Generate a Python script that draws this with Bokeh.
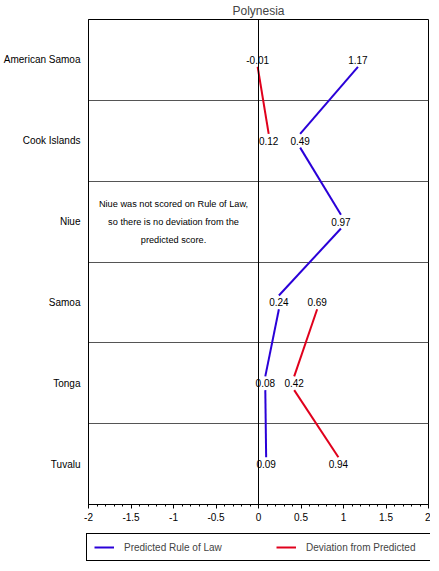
import math
from bokeh.plotting import figure
from bokeh.layouts import column
from bokeh.models import (Range1d, FixedTicker, SingleIntervalTicker, Span, Legend, LegendItem,
                          ColumnDataSource)
from bokeh.core.properties import value
from bokeh.embed import file_html
from bokeh.resources import INLINE

countries = ["American Samoa", "Cook Islands", "Niue", "Samoa", "Tonga", "Tuvalu"]
predicted = [1.17, 0.49, 0.97, 0.24, 0.08, 0.09]
deviation = [-0.01, 0.12, float("nan"), 0.69, 0.42, 0.94]
x_ticks = [-2, -1.5, -1, -0.5, 0, 0.5, 1, 1.5, 2]
x_tick_labels = ["-2", "-1.5", "-1", "-0.5", "0", "0.5", "1", "1.5", "2"]
title_text = "Polynesia"
note_text = "Niue was not scored on Rule of Law,\nso there is no deviation from the\npredicted score."
series_names = ["Predicted Rule of Law", "Deviation from Predicted"]

FONT = "Liberation Sans"
BLUE = "#2a00d8"
RED = "#e0001c"
n = len(countries)
pos = [n - 1 - i for i in range(n)]  # top to bottom
GAP = 0.085
FW = 340
LEFT = 80
RIGHT = 2

p = figure(frame_width=FW, frame_height=485, output_backend="svg", toolbar_location=None,
           x_range=Range1d(-2, 2), y_range=Range1d(-0.5, n - 0.5),
           min_border_left=LEFT, min_border_right=RIGHT, min_border_top=4, min_border_bottom=24)

p.title.text = title_text
p.title.align = "center"
p.title.text_font = FONT
p.title.text_font_size = "12px"
p.title.text_font_style = "normal"
p.title.standoff = 3

p.outline_line_color = "black"
p.outline_line_alpha = 1
p.outline_line_width = 1

p.xgrid.visible = False
p.ygrid.ticker = FixedTicker(ticks=[k + 0.5 for k in range(n - 1)])
p.ygrid.grid_line_color = "#555555"
p.ygrid.grid_line_alpha = 1
p.ygrid.grid_line_width = 1

xa = p.xaxis[0]
xa.ticker = SingleIntervalTicker(interval=0.5, num_minor_ticks=5)
xa.major_label_overrides = {t: s for t, s in zip(x_ticks, x_tick_labels)}
xa.major_label_text_font = FONT
xa.major_label_text_font_size = "10px"
xa.major_label_text_color = "black"
xa.axis_line_color = "black"
xa.major_tick_line_color = "black"
xa.minor_tick_line_color = "black"
xa.major_tick_out = 4
xa.major_tick_in = 0
xa.minor_tick_out = 2
xa.minor_tick_in = 0
xa.major_label_standoff = 4

ya = p.yaxis[0]
ya.ticker = FixedTicker(ticks=pos)
ya.major_label_overrides = {pp: c for pp, c in zip(pos, countries)}
ya.major_label_text_font = FONT
ya.major_label_text_font_size = "10px"
ya.major_label_text_color = "black"
ya.major_tick_line_color = None
ya.minor_tick_line_color = None
ya.major_tick_out = 0
ya.major_tick_in = 0
ya.minor_tick_out = 0
ya.minor_tick_in = 0
ya.axis_line_color = "black"
ya.major_label_standoff = 8

p.add_layout(Span(location=0, dimension="height", line_color="black", line_width=1))

def segs(vals):
    x0, x1, y0, y1 = [], [], [], []
    for i in range(n - 1):
        a, b = vals[i], vals[i + 1]
        if math.isnan(a) or math.isnan(b):
            continue
        x0.append(a); x1.append(b)
        y0.append(pos[i] - GAP); y1.append(pos[i + 1] + GAP)
    return dict(x0=x0, x1=x1, y0=y0, y1=y1)

p.segment("x0", "y0", "x1", "y1", source=ColumnDataSource(segs(predicted)),
          line_color=BLUE, line_width=2)
p.segment("x0", "y0", "x1", "y1", source=ColumnDataSource(segs(deviation)),
          line_color=RED, line_width=2)

for vals in (predicted, deviation):
    xs = [v for v in vals if not math.isnan(v)]
    ys = [pp for v, pp in zip(vals, pos) if not math.isnan(v)]
    txt = [f"{v:.2f}" for v in xs]
    p.text(x=xs, y=ys, text=txt, text_align="center", text_baseline="middle",
           text_font=value(FONT), text_font_size="10px", text_color="black")

niue_y = pos[countries.index("Niue")]
p.text(x=[-1.0], y=[niue_y], text=[note_text], text_align="center", text_baseline="middle",
       text_font=value(FONT), text_font_size="9.2px", text_color="black", text_line_height=1.8)

# legend strip spanning the full width; legend placed under the main frame
lg = figure(frame_width=430, frame_height=34, output_backend="svg",
            toolbar_location=None, x_range=Range1d(0, 1), y_range=Range1d(0, 1), min_border=0)
lg.axis.visible = False
lg.grid.visible = False
lg.outline_line_color = None
lb = lg.line([-10, -9], [-10, -10], line_color=BLUE, line_width=2)
lr = lg.line([-10, -9], [-10, -10], line_color=RED, line_width=2)
legend = Legend(items=[LegendItem(label=series_names[0], renderers=[lb]),
                       LegendItem(label=series_names[1], renderers=[lr])],
                orientation="horizontal", location=(86, 1),
                label_text_font=FONT, label_text_font_size="10px",
                glyph_width=20, glyph_height=12, label_height=12, label_width=118,
                label_standoff=10, spacing=34, padding=7, margin=0,
                border_line_color="black", border_line_alpha=1, border_line_width=1,
                background_fill_color="white", background_fill_alpha=1)
lg.add_layout(legend)

layout = column(p, lg, spacing=0)
open("out.html", "w").write(file_html(layout, INLINE))
